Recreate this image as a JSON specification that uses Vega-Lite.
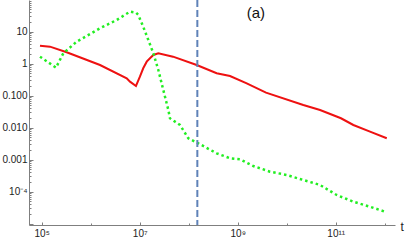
{
  "$schema": "https://vega.github.io/schema/vega-lite/v6.json",
  "width": 366,
  "height": 225,
  "autosize": {"type": "none"},
  "padding": {"left": 29, "top": 0, "right": 12, "bottom": 15},
  "config": {
    "view": {"stroke": null},
    "font": "Liberation Sans",
    "axis": {
      "grid": false,
      "domainColor": "#7f7f7f",
      "tickColor": "#7f7f7f",
      "labelColor": "#222222",
      "labelFontSize": 10,
      "labelFont": "Liberation Sans"
    }
  },
  "datasets": {
    "curves": [
      {"curve": "u", "t": 92300, "v": 3.65},
      {"curve": "u", "t": 147600, "v": 3.40},
      {"curve": "u", "t": 323600, "v": 2.27},
      {"curve": "u", "t": 1549000, "v": 0.91},
      {"curve": "u", "t": 5430000, "v": 0.35},
      {"curve": "u", "t": 6340000, "v": 0.274},
      {"curve": "u", "t": 8390000, "v": 0.201},
      {"curve": "u", "t": 10100000, "v": 0.393},
      {"curve": "u", "t": 11800000, "v": 0.718},
      {"curve": "u", "t": 13900000, "v": 1.155},
      {"curve": "u", "t": 16200000, "v": 1.475},
      {"curve": "u", "t": 19000000, "v": 1.87},
      {"curve": "u", "t": 24000000, "v": 2.11},
      {"curve": "u", "t": 47900000, "v": 1.655},
      {"curve": "u", "t": 145600000, "v": 0.91},
      {"curve": "u", "t": 372000000, "v": 0.501},
      {"curve": "u", "t": 697000000, "v": 0.413},
      {"curve": "u", "t": 1528000000, "v": 0.244},
      {"curve": "u", "t": 3780000000, "v": 0.124},
      {"curve": "u", "t": 21800000000, "v": 0.0513},
      {"curve": "u", "t": 47900000000, "v": 0.0357},
      {"curve": "u", "t": 128000000000, "v": 0.0197},
      {"curve": "u", "t": 229000000000, "v": 0.01213},
      {"curve": "u", "t": 501000000000, "v": 0.0075},
      {"curve": "u", "t": 1100000000000, "v": 0.00467},
      {"curve": "w", "t": 92300, "v": 1.655},
      {"curve": "w", "t": 196000, "v": 0.75},
      {"curve": "w", "t": 276000, "v": 2.11},
      {"curve": "w", "t": 518000, "v": 4.87},
      {"curve": "w", "t": 1549000, "v": 12.8},
      {"curve": "w", "t": 3400000, "v": 23.2},
      {"curve": "w", "t": 6340000, "v": 42.2},
      {"curve": "w", "t": 8390000, "v": 39.3},
      {"curve": "w", "t": 9350000, "v": 33.3},
      {"curve": "w", "t": 11800000, "v": 14.3},
      {"curve": "w", "t": 15000000, "v": 5.51},
      {"curve": "w", "t": 19000000, "v": 2.11},
      {"curve": "w", "t": 24000000, "v": 0.635},
      {"curve": "w", "t": 30300000, "v": 0.151},
      {"curve": "w", "t": 38400000, "v": 0.0357},
      {"curve": "w", "t": 41500000, "v": 0.0197},
      {"curve": "w", "t": 66400000, "v": 0.01213},
      {"curve": "w", "t": 98200000, "v": 0.00467},
      {"curve": "w", "t": 157000000, "v": 0.00325},
      {"curve": "w", "t": 372000000, "v": 0.00158},
      {"curve": "w", "t": 697000000, "v": 0.00111},
      {"curve": "w", "t": 1114000000, "v": 0.00103},
      {"curve": "w", "t": 2080000000, "v": 0.000635},
      {"curve": "w", "t": 4560000000, "v": 0.000422},
      {"curve": "w", "t": 10000000000, "v": 0.000333},
      {"curve": "w", "t": 21800000000, "v": 0.000232},
      {"curve": "w", "t": 47900000000, "v": 0.000162},
      {"curve": "w", "t": 104700000000, "v": 0.0000789},
      {"curve": "w", "t": 229000000000, "v": 0.0000487},
      {"curve": "w", "t": 501000000000, "v": 0.0000339},
      {"curve": "w", "t": 1014000000000, "v": 0.0000237}
    ],
    "marker": [{"t": 150000000}],
    "panel": [{"label": "(a)"}]
  },
  "layer": [
    {
      "data": {"name": "curves"},
      "transform": [{"filter": "datum.curve === 'u'"}],
      "mark": {"type": "line", "color": "#ee1111", "strokeWidth": 2},
      "encoding": {
        "x": {
          "field": "t",
          "type": "quantitative",
          "scale": {"type": "log", "domain": [55100, 1620000000000], "nice": false, "zero": false},
          "axis": {
            "values": [100000, 1000000, 10000000, 100000000, 1000000000, 10000000000, 100000000000, 1000000000000],
            "labelExpr": "datum.value==1e5?'10⁵':datum.value==1e7?'10⁷':datum.value==1e9?'10⁹':datum.value==1e11?'10¹¹':''",
            "tickSize": {"condition": {"test": "datum.value==1e5||datum.value==1e7||datum.value==1e9||datum.value==1e11", "value": -3}, "value": -2},
            "labelPadding": 6,
            "title": "t",
            "titleFontSize": 12,
            "titleFontWeight": "normal",
            "titleColor": "#222222",
            "titleX": 371,
            "titleY": 1,
            "titleAlign": "left",
            "titleBaseline": "middle",
            "titleAnchor": "start"
          }
        },
        "y": {
          "field": "v",
          "type": "quantitative",
          "scale": {"type": "log", "domain": [0.0000091, 97.7], "nice": false, "zero": false},
          "axis": {
            "values": [0.00001, 0.00002, 0.00003, 0.00004, 0.00005, 0.00006, 0.00007, 0.00008, 0.00009,
                       0.0001, 0.0002, 0.0003, 0.0004, 0.0005, 0.0006, 0.0007, 0.0008, 0.0009,
                       0.001, 0.002, 0.003, 0.004, 0.005, 0.006, 0.007, 0.008, 0.009,
                       0.01, 0.02, 0.03, 0.04, 0.05, 0.06, 0.07, 0.08, 0.09,
                       0.1, 0.2, 0.3, 0.4, 0.5, 0.6, 0.7, 0.8, 0.9,
                       1, 2, 3, 4, 5, 6, 7, 8, 9,
                       10, 20, 30, 40, 50, 60, 70, 80, 90],
            "labelExpr": "datum.value==10?'10':datum.value==1?'1':datum.value==0.1?'0.100':datum.value==0.01?'0.010':datum.value==0.001?'0.001':datum.value==0.0001?'10⁻⁴':''",
            "tickSize": {"condition": {"test": "abs(log(datum.value)/LN10 - round(log(datum.value)/LN10)) < 0.001", "value": -4}, "value": -2},
            "labelPadding": 6,
            "title": null
          }
        }
      }
    },
    {
      "data": {"name": "curves"},
      "transform": [{"filter": "datum.curve === 'w'"}],
      "mark": {"type": "line", "color": "#22ee22", "strokeWidth": 2.5, "strokeDash": [2.5, 3], "strokeCap": "butt"},
      "encoding": {
        "x": {"field": "t", "type": "quantitative"},
        "y": {"field": "v", "type": "quantitative"}
      }
    },
    {
      "data": {"name": "marker"},
      "mark": {"type": "rule", "color": "#5f82b8", "strokeWidth": 2, "strokeDash": [7, 3]},
      "encoding": {
        "x": {"field": "t", "type": "quantitative"}
      }
    },
    {
      "data": {"name": "panel"},
      "mark": {"type": "text", "fontSize": 15, "color": "#111111", "align": "center", "baseline": "middle", "font": "Liberation Sans"},
      "encoding": {
        "text": {"field": "label"},
        "x": {"datum": 2350000000},
        "y": {"datum": 38}
      }
    }
  ]
}
